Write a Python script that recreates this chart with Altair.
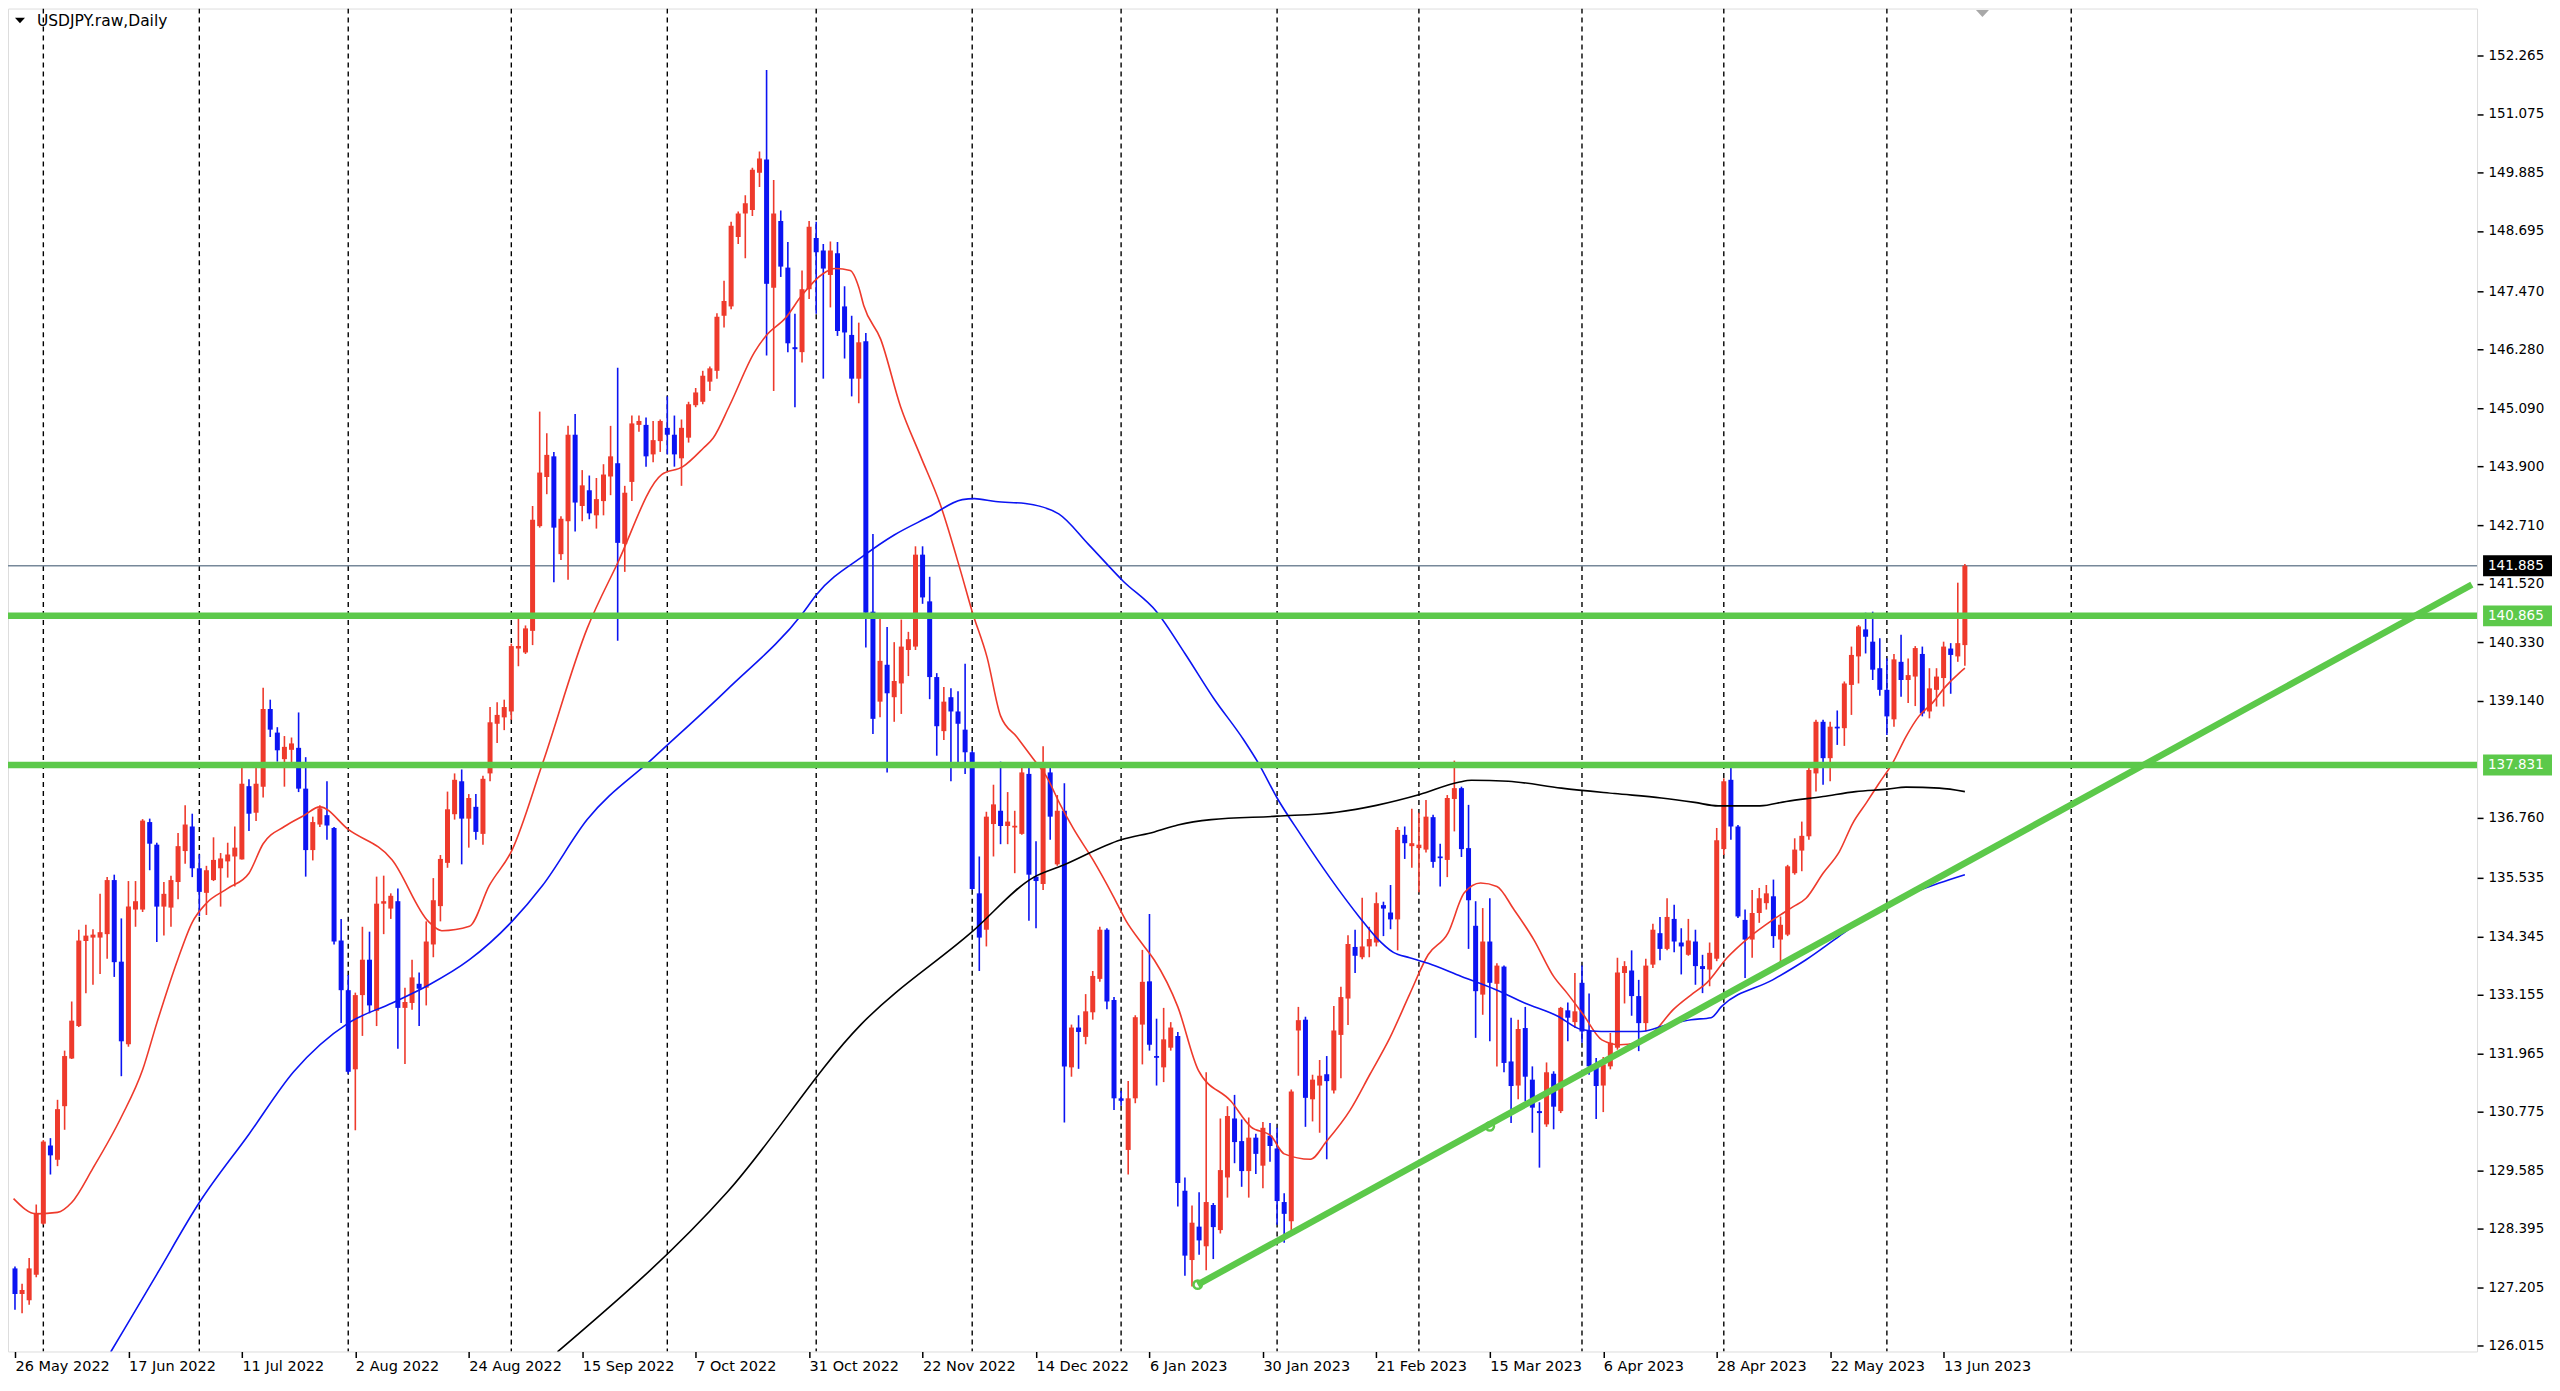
import json
import altair as alt
import pandas as pd

# ---------------- data (daily USDJPY candles) ----------------
OPEN = [
    127.59, 127.07, 126.94, 127.46, 128.50, 130.09, 129.80, 130.89, 131.86, 132.52,
    134.25, 134.32, 134.32, 134.39, 135.49, 133.83, 132.15, 134.89, 134.89, 136.67,
    136.21, 134.95, 134.93, 135.45, 136.08, 136.58, 135.73, 135.23, 135.49, 135.73,
    135.87, 135.97, 135.91, 137.40, 136.86, 137.39, 138.97, 138.49, 137.95, 138.14,
    138.18, 137.35, 136.10, 136.62, 136.81, 136.55, 134.26, 133.25, 131.64, 133.15,
    133.87, 132.83, 135.01, 134.91, 135.06, 132.89, 132.99, 133.38, 133.30, 134.18,
    134.96, 135.84, 136.83, 137.50, 136.74, 136.98, 136.43, 137.66, 138.67, 138.80,
    138.92, 140.20, 140.12, 140.56, 142.69, 143.69, 144.11, 142.12, 142.79, 144.55,
    143.10, 143.42, 142.91, 143.20, 143.70, 143.97, 142.33, 143.59, 144.75, 144.75,
    144.15, 144.42, 144.69, 144.55, 144.07, 144.49, 145.15, 145.22, 145.63, 145.85,
    146.97, 147.16, 148.57, 149.05, 149.12, 149.88, 150.15, 147.54, 148.90, 147.95,
    146.33, 146.23, 147.51, 148.55, 148.30, 147.80, 148.24, 147.16, 146.58, 145.69,
    146.45, 140.95, 139.12, 139.87, 139.21, 139.49, 140.17, 140.24, 142.11, 141.16,
    139.62, 138.52, 139.21, 138.92, 138.55, 138.09, 135.22, 134.48, 136.63, 136.90,
    136.59, 136.56, 136.43, 137.65, 135.56, 135.41, 137.68, 135.81, 136.90, 131.68,
    132.49, 132.30, 132.80, 133.48, 134.48, 133.05, 131.05, 130.00, 131.05, 132.55,
    133.43, 131.91, 131.68, 132.08, 132.32, 129.17, 127.76, 128.44, 128.04, 128.88,
    128.37, 129.44, 130.64, 130.18, 129.57, 130.25, 129.68, 130.29, 130.03, 128.94,
    128.55, 132.43, 132.65, 131.03, 131.31, 131.54, 131.21, 132.34, 133.08, 134.13,
    133.92, 134.14, 134.22, 134.98, 134.83, 134.69, 136.41, 136.18, 136.14, 136.11,
    136.77, 135.97, 135.90, 137.14, 137.36, 136.14, 134.56, 133.16, 134.24, 133.38,
    133.73, 131.80, 131.31, 132.48, 131.43, 130.79, 130.52, 131.55, 130.79, 132.84,
    132.60, 133.40, 132.43, 131.70, 131.31, 131.70, 132.08, 133.60, 133.65, 133.13,
    132.58, 133.77, 134.41, 134.09, 134.70, 134.22, 133.97, 134.24, 133.74, 133.67,
    133.89, 136.12, 137.53, 136.58, 134.68, 134.28, 134.82, 135.02, 135.16, 134.28,
    134.38, 135.63, 136.09, 136.38, 137.66, 138.71, 137.97, 138.61, 138.58, 139.46,
    140.04, 140.59, 140.34, 139.80, 139.36, 138.76, 139.93, 139.56, 139.63, 140.09,
    138.92, 139.36, 139.60, 140.20, 140.04, 140.27,
]
HIGH = [
    127.63, 127.28, 127.80, 128.89, 130.20, 130.24, 131.02, 132.02, 133.02, 134.48,
    134.58, 134.49, 135.21, 135.55, 135.60, 134.71, 135.47, 135.47, 136.73, 136.74,
    136.25, 135.45, 135.58, 136.45, 137.01, 136.84, 136.01, 135.78, 136.36, 136.04,
    136.25, 136.58, 137.78, 137.54, 137.88, 139.40, 139.16, 138.60, 138.42, 138.39,
    138.90, 137.99, 136.78, 137.01, 137.50, 136.57, 134.70, 133.56, 133.20, 134.54,
    134.44, 135.56, 135.58, 135.22, 135.32, 133.30, 133.87, 133.61, 134.65, 135.53,
    136.00, 137.29, 137.66, 137.74, 137.24, 137.24, 137.61, 139.01, 139.11, 139.16,
    140.30, 140.82, 140.67, 143.10, 145.02, 144.58, 144.20, 142.89, 144.73, 144.97,
    143.83, 143.72, 143.67, 143.95, 144.73, 145.91, 143.51, 144.94, 144.94, 144.90,
    144.83, 144.86, 145.33, 144.94, 144.86, 145.22, 145.50, 145.85, 145.94, 147.02,
    147.68, 148.88, 149.09, 149.42, 149.98, 150.31, 151.97, 149.73, 149.11, 148.47,
    147.01, 147.89, 148.90, 148.88, 148.43, 148.48, 148.47, 147.57, 146.97, 146.83,
    146.62, 142.53, 140.83, 140.64, 140.33, 140.79, 140.54, 142.28, 142.28, 141.66,
    139.70, 139.42, 139.39, 139.33, 139.89, 138.12, 135.97, 136.88, 137.43, 137.90,
    137.28, 136.90, 137.84, 137.84, 136.28, 138.21, 137.84, 137.22, 137.46, 132.55,
    132.74, 133.17, 133.64, 134.54, 134.51, 133.11, 131.20, 131.40, 132.74, 134.07,
    134.80, 132.67, 132.89, 132.60, 132.40, 129.44, 128.87, 129.14, 131.58, 128.92,
    130.64, 130.89, 131.12, 130.62, 130.66, 130.33, 130.57, 130.55, 130.45, 129.12,
    131.23, 132.91, 132.71, 131.53, 131.83, 131.91, 132.93, 133.32, 134.37, 134.48,
    135.13, 134.54, 135.24, 135.05, 135.39, 136.57, 136.58, 136.94, 136.86, 137.12,
    136.82, 136.23, 137.22, 137.92, 137.39, 137.02, 135.06, 134.92, 135.12, 133.80,
    133.75, 132.69, 132.65, 132.91, 131.70, 130.97, 131.78, 131.60, 132.91, 133.00,
    133.60, 133.75, 133.18, 131.87, 131.89, 132.38, 133.91, 133.84, 134.06, 133.46,
    133.89, 134.60, 134.74, 135.12, 134.99, 134.51, 134.70, 134.48, 133.97, 134.22,
    136.55, 137.56, 137.77, 136.61, 134.89, 135.29, 135.33, 135.39, 135.50, 134.75,
    135.80, 136.34, 136.68, 137.77, 138.75, 138.75, 138.71, 138.94, 139.53, 140.24,
    140.68, 140.93, 140.95, 140.41, 140.00, 140.09, 140.48, 140.00, 140.25, 140.24,
    139.80, 139.80, 140.34, 140.31, 141.54, 141.92,
]
LOW = [
    126.75, 126.68, 126.85, 127.41, 128.48, 129.50, 129.67, 130.41, 131.85, 132.50,
    133.19, 133.36, 133.58, 133.89, 133.52, 131.50, 132.10, 134.54, 134.84, 135.69,
    134.23, 134.36, 134.54, 135.10, 135.82, 135.55, 134.76, 134.78, 135.47, 134.95,
    135.54, 135.36, 135.91, 136.49, 136.69, 137.17, 138.40, 137.90, 137.39, 137.88,
    137.28, 135.56, 135.89, 136.57, 136.31, 134.18, 132.58, 131.55, 130.40, 132.32,
    132.78, 132.52, 134.39, 134.70, 132.06, 131.75, 132.85, 132.52, 132.94, 133.92,
    134.65, 135.74, 136.72, 135.81, 136.15, 136.31, 136.21, 137.50, 138.28, 138.54,
    138.75, 139.84, 140.09, 140.27, 142.66, 143.34, 141.55, 142.00, 141.60, 142.58,
    142.79, 142.83, 142.64, 142.91, 143.32, 140.36, 141.76, 143.20, 144.61, 143.90,
    143.99, 144.20, 144.15, 143.90, 143.51, 144.39, 145.11, 145.17, 145.44, 145.69,
    146.73, 147.10, 148.43, 148.14, 149.00, 149.59, 146.16, 145.44, 147.76, 146.23,
    145.11, 146.02, 147.31, 147.01, 145.69, 147.14, 146.56, 146.10, 145.33, 145.19,
    140.22, 138.46, 138.80, 137.68, 138.71, 138.87, 139.64, 140.17, 141.11, 139.17,
    138.02, 138.34, 137.50, 137.88, 137.65, 135.29, 133.64, 134.14, 135.97, 136.22,
    136.22, 135.63, 136.41, 134.66, 134.51, 135.29, 136.31, 135.78, 130.56, 131.49,
    131.65, 132.15, 132.65, 133.42, 132.86, 130.81, 130.90, 129.50, 130.95, 131.74,
    132.02, 131.31, 131.38, 132.02, 128.85, 127.44, 127.22, 127.87, 127.55, 127.78,
    128.30, 129.03, 129.73, 129.25, 129.03, 129.51, 129.22, 129.76, 128.48, 128.11,
    128.29, 131.51, 130.47, 130.58, 130.35, 129.81, 131.15, 131.46, 132.54, 133.60,
    133.88, 133.92, 134.14, 134.35, 134.49, 134.06, 135.92, 135.74, 135.24, 136.05,
    135.74, 135.36, 135.55, 136.48, 135.96, 134.09, 132.28, 132.75, 132.21, 131.70,
    131.58, 130.55, 131.03, 130.99, 130.35, 129.64, 130.47, 130.42, 130.75, 132.21,
    132.48, 132.18, 131.53, 130.63, 130.77, 131.64, 132.04, 132.98, 132.73, 132.01,
    132.41, 133.70, 133.86, 134.06, 134.02, 133.57, 133.95, 133.36, 133.19, 133.33,
    133.84, 136.00, 136.31, 134.72, 133.50, 133.91, 134.62, 134.89, 134.11, 133.73,
    134.35, 135.60, 135.67, 136.31, 137.29, 137.43, 137.50, 138.24, 138.22, 138.85,
    139.49, 140.10, 139.56, 139.24, 138.44, 138.61, 139.22, 139.09, 139.03, 138.82,
    138.78, 139.02, 139.02, 139.28, 139.93, 139.85,
]
CLOSE = [
    127.07, 127.15, 127.59, 128.72, 130.17, 129.89, 130.83, 131.91, 132.63, 134.26,
    134.36, 134.38, 134.43, 135.49, 133.82, 132.21, 134.95, 135.06, 136.70, 136.23,
    134.95, 135.21, 135.49, 136.18, 136.62, 135.73, 135.25, 135.69, 135.90, 135.93,
    136.01, 136.15, 137.45, 136.84, 137.45, 138.97, 138.55, 138.13, 138.20, 138.27,
    137.35, 136.10, 136.67, 136.95, 136.60, 134.24, 133.25, 131.59, 133.15, 133.87,
    132.94, 135.01, 135.06, 135.17, 132.89, 133.01, 133.51, 133.28, 134.24, 135.08,
    135.92, 136.93, 137.53, 136.74, 137.16, 136.47, 137.55, 138.70, 138.85, 139.01,
    140.25, 140.25, 140.61, 142.82, 143.78, 144.14, 142.66, 142.84, 144.55, 143.17,
    143.52, 142.95, 143.24, 143.74, 144.11, 142.35, 143.37, 144.78, 144.83, 144.11,
    144.44, 144.83, 144.55, 144.15, 144.69, 145.17, 145.41, 145.75, 145.90, 146.95,
    147.27, 148.80, 149.05, 149.26, 149.94, 150.17, 147.62, 149.05, 147.97, 146.41,
    146.29, 147.51, 148.78, 148.26, 147.93, 148.30, 146.66, 146.63, 145.69, 146.43,
    140.93, 138.77, 139.95, 139.29, 139.54, 140.24, 140.39, 142.11, 141.24, 139.62,
    138.62, 139.12, 138.92, 138.67, 138.09, 135.31, 134.32, 136.78, 137.03, 136.59,
    136.68, 136.59, 137.68, 135.60, 135.47, 137.80, 136.78, 136.90, 131.70, 132.49,
    132.40, 132.82, 133.54, 134.48, 133.02, 131.05, 131.00, 131.05, 132.70, 133.42,
    132.14, 131.89, 132.25, 132.49, 129.33, 127.85, 128.52, 128.16, 128.94, 128.43,
    129.59, 130.69, 130.16, 129.57, 130.25, 129.92, 130.45, 130.08, 128.96, 128.70,
    131.19, 132.64, 131.06, 131.43, 131.51, 131.40, 132.43, 133.11, 134.19, 133.95,
    134.14, 134.29, 135.02, 134.91, 134.69, 136.51, 136.24, 136.24, 136.21, 136.78,
    135.86, 135.94, 137.16, 137.36, 136.12, 135.08, 133.23, 134.24, 133.40, 133.75,
    131.77, 131.30, 132.46, 131.49, 130.86, 130.75, 131.58, 130.88, 132.89, 132.69,
    132.82, 132.41, 131.70, 131.30, 131.74, 132.18, 133.61, 133.74, 133.13, 132.58,
    133.75, 134.48, 134.09, 134.74, 134.24, 134.14, 134.26, 133.74, 133.68, 134.01,
    136.30, 137.50, 136.58, 134.75, 134.28, 134.82, 135.12, 135.22, 134.35, 134.58,
    135.77, 136.11, 136.39, 137.73, 138.71, 137.97, 138.61, 138.58, 139.49, 140.07,
    140.65, 140.44, 139.77, 139.36, 138.82, 139.98, 139.56, 139.66, 140.21, 138.88,
    139.39, 139.63, 140.24, 140.07, 140.31, 141.885,
]

# moving averages as [bar index, price]
RED_MA = [
    [-0.2, 129.01], [3, 128.70], [6, 128.73], [8, 128.93], [11, 129.63], [15, 130.67],
    [18, 131.63], [20, 132.58], [23, 133.89], [25, 134.63], [27, 135.02], [30, 135.32],
    [33, 135.63], [35, 136.23], [38, 136.58], [40.7, 136.80], [43, 136.98], [47, 136.52],
    [53.2, 135.90], [58.3, 134.65], [60.2, 134.46], [64.1, 134.55], [66.9, 135.38],
    [70.1, 136.10], [74.4, 137.86], [80.7, 140.61], [84.9, 141.91], [91.2, 143.74],
    [94.2, 143.90], [97.1, 144.28], [98.5, 144.49], [100.8, 145.15], [104.3, 146.23],
    [105.9, 146.56], [108.7, 146.93], [111.0, 147.39], [113.9, 147.82], [115.7, 147.93],
    [117.8, 147.89], [119.0, 147.55], [119.7, 147.18], [122.1, 146.49], [124.9, 145.12],
    [127.7, 144.12], [130.5, 143.13], [133.4, 141.76], [135.0, 140.95], [137.1, 140.02],
    [139.0, 138.83], [141.3, 138.40], [143.6, 137.96], [145.5, 137.59], [147.4, 137.03],
    [149.3, 136.53], [152.0, 135.91], [154.9, 135.16], [156.7, 134.66], [159.1, 134.17],
    [160.7, 133.86], [164.0, 132.91], [166.9, 131.62], [171.5, 130.99], [174.3, 130.47],
    [177.1, 130.29], [179.0, 129.92], [182.7, 129.81], [185.0, 130.18], [188.3, 130.81],
    [191.1, 131.54], [193.9, 132.28], [196.7, 133.17], [199.3, 133.97], [202.1, 134.41],
    [204.4, 135.23], [206.7, 135.43], [209.0, 135.36], [211.4, 134.89], [214.2, 134.28],
    [217.0, 133.53], [218.9, 133.19], [221.2, 132.75], [223.8, 132.24], [226.3, 132.14],
    [228.7, 132.18], [231.0, 132.38], [233.9, 132.86], [236.7, 133.19], [238.6, 133.40],
    [241.4, 133.90], [244.2, 134.28], [247.9, 134.68], [250.8, 134.95], [252.6, 135.12],
    [255.0, 135.63], [257.3, 136.07], [259.2, 136.65], [261.1, 137.06], [262.9, 137.46],
    [264.8, 137.87], [266.7, 138.41], [268.5, 138.82], [270.4, 139.09], [272.3, 139.43],
    [274.2, 139.70], [275.0, 139.80],
]
BLUE_MA = [
    [13.5, 125.89], [15.4, 126.35], [20, 127.47], [26, 128.93], [33, 130.32], [39.3, 131.59],
    [47, 132.58], [53.2, 132.99], [58.3, 133.35], [64.1, 133.87], [70.1, 134.65],
    [74.4, 135.38], [80.7, 136.72], [90, 137.97], [100.4, 139.36], [111.1, 140.92],
    [113, 141.29], [119.6, 142.08], [124.0, 142.51], [128.9, 142.88], [133.6, 143.23],
    [135.3, 143.25], [138.3, 143.19], [142.5, 143.15], [147.2, 142.94], [151.4, 142.32],
    [156.3, 141.57], [161.0, 140.95], [165, 140.10], [169, 139.20], [173.3, 138.34],
    [175.4, 137.86], [178.0, 137.16], [181.3, 136.42], [185.5, 135.53], [189.7, 134.72],
    [192.0, 134.32], [194.4, 134.02], [196.7, 133.91], [199.3, 133.80], [204.0, 133.53],
    [208.7, 133.27], [212.9, 132.99], [217.6, 132.72], [220.9, 132.45], [223.7, 132.41],
    [229.3, 132.41], [233.1, 132.55], [236.4, 132.65], [239.2, 132.69], [240.7, 132.92],
    [247.9, 133.46], [252.6, 133.87], [257.3, 134.35], [262.0, 134.82], [265.3, 135.08],
    [271.4, 135.43], [275.0, 135.60],
]
BLACK_MA = [
    [76.5, 125.89], [100.5, 129.15], [119.3, 132.55], [135.0, 134.44], [143.6, 135.54],
    [147.8, 135.79], [156.0, 136.31], [160.7, 136.47], [164.0, 136.61], [168.7, 136.72],
    [178.0, 136.79], [186.4, 136.87], [192.0, 137.01], [198.1, 137.23], [203.6, 137.48],
    [205.4, 137.52], [210.6, 137.50], [218.1, 137.36], [225.6, 137.25], [232.2, 137.16],
    [236.9, 137.07], [240.2, 137.00], [246.1, 137.00], [249.8, 137.09], [255.0, 137.19],
    [259.6, 137.29], [264.1, 137.34], [266.7, 137.38], [271.4, 137.36], [275.0, 137.29],
]

LEVELS = [140.865, 137.831]
LAST_PRICE = 141.885
TREND = [[166.8, 127.26], [346.5, 141.50]]
TREND_ANCHORS = [[166.8, 127.26], [208.0, 130.48]]

DATE_LABELS = [
    "26 May 2022", "17 Jun 2022", "11 Jul 2022", "2 Aug 2022", "24 Aug 2022",
    "15 Sep 2022", "7 Oct 2022", "31 Oct 2022", "22 Nov 2022", "14 Dec 2022",
    "6 Jan 2023", "30 Jan 2023", "21 Feb 2023", "15 Mar 2023", "6 Apr 2023",
    "28 Apr 2023", "22 May 2023", "13 Jun 2023",
]
DATE_LABEL_IDX = [16 * i for i in range(len(DATE_LABELS))]
MONTH_START_IDX = [4, 26, 47, 70, 92, 113, 135, 156, 178, 198, 221, 241, 264, 290]
PRICE_TICKS = [
    152.265, 151.075, 149.885, 148.695, 147.470, 146.280, 145.090, 143.900, 142.710,
    141.520, 140.330, 139.140, 136.760, 135.535, 134.345, 133.155, 131.965, 130.775,
    129.585, 128.395, 127.205, 126.015,
]
TITLE = "USDJPY.raw,Daily"

# ---------------- styling ----------------
RED = "#ee3a2c"
BLUE = "#0b14f2"
GREEN = "#5cc94a"
FONT = "DejaVu Sans"
W, H = 2471, 1344
XDOM = [-0.28, 346.53]
YDOM = [125.90, 153.22]

candles = pd.DataFrame({"idx": list(range(len(OPEN))), "open": OPEN, "high": HIGH,
                        "low": LOW, "close": CLOSE})
candles["dir"] = ["up" if c >= o else "down" for o, c in zip(candles["open"], candles["close"])]
candles["bo"] = candles["open"]
candles["bc"] = [c if abs(c - o) >= 0.035 else (o + 0.035 if c >= o else o - 0.035)
                 for o, c in zip(candles["open"], candles["close"])]

xscale = alt.Scale(domain=XDOM, nice=False, zero=False)
yscale = alt.Scale(domain=YDOM, nice=False, zero=False)
x_axis = alt.Axis(values=DATE_LABEL_IDX, labelExpr=json.dumps(DATE_LABELS) + "[round(datum.value / 16)]",
                  title=None, grid=False, domain=False, tickSize=6, tickColor="black", tickWidth=1.5,
                  labelAlign="left", labelBaseline="top", labelPadding=2, labelFont=FONT,
                  labelFontSize=14.5, labelColor="black", labelOverlap=False, labelFlush=False)
y_axis = alt.Axis(values=PRICE_TICKS, format=".3f", orient="right", title=None, grid=False,
                  domain=False, tickSize=6, tickColor="black", tickWidth=1.5, labelPadding=5,
                  labelFont=FONT, labelFontSize=13.5, labelColor="black", labelOverlap=False,
                  labelFlush=False)


def X(f):
    return alt.X(f"{f}:Q", scale=xscale, axis=x_axis)


def Y(f):
    return alt.Y(f"{f}:Q", scale=yscale, axis=y_axis)


dir_color = alt.Color("dir:N", scale=alt.Scale(domain=["up", "down"], range=[RED, BLUE]), legend=None)

grid = alt.Chart(pd.DataFrame({"idx": MONTH_START_IDX})).mark_rule(
    color="black", strokeWidth=1.4, strokeDash=[5, 4], clip=True).encode(x=X("idx"))

price_line = alt.Chart(pd.DataFrame({"v": [LAST_PRICE]})).mark_rule(
    color="#778899", strokeWidth=1.5, clip=True).encode(y=Y("v"))

wicks = alt.Chart(candles).mark_rule(strokeWidth=1.6, clip=True).encode(
    x=X("idx"), y=Y("low"), y2="high:Q", color=dir_color)
bodies = alt.Chart(candles).mark_bar(size=5, clip=True).encode(
    x=X("idx"), y=Y("bo"), y2="bc:Q", color=dir_color)


def ma_layer(points, color):
    df = pd.DataFrame(points, columns=["idx", "v"])
    return alt.Chart(df).mark_line(color=color, strokeWidth=1.6, interpolate="monotone",
                                   clip=True).encode(x=X("idx"), y=Y("v"))


red_ma = ma_layer(RED_MA, RED)
blue_ma = ma_layer(BLUE_MA, BLUE)
black_ma = ma_layer(BLACK_MA, "black")

levels = alt.Chart(pd.DataFrame({"v": LEVELS})).mark_rule(
    color=GREEN, strokeWidth=6.5, clip=True).encode(y=Y("v"))
trend = alt.Chart(pd.DataFrame(TREND, columns=["idx", "v"])).mark_line(
    color=GREEN, strokeWidth=6.5, clip=True).encode(x=X("idx"), y=Y("v"))
anchors = alt.Chart(pd.DataFrame(TREND_ANCHORS, columns=["idx", "v"])).mark_point(
    shape="circle", filled=False, color=GREEN, size=70, strokeWidth=2.5, opacity=1,
    clip=True).encode(x=X("idx"), y=Y("v"))

boxes_df = pd.DataFrame({
    "v": [LAST_PRICE] + LEVELS,
    "t": [f"{LAST_PRICE:.3f}"] + [f"{v:.3f}" for v in LEVELS],
    "bg": ["black", GREEN, GREEN],
})
box_bg = alt.Chart(boxes_df).transform_calculate(
    lo="datum.v - 0.213", hi="datum.v + 0.213").mark_rect().encode(
    x=alt.value(W + 6), x2=alt.value(W + 75), y=Y("lo"), y2="hi:Q",
    color=alt.Color("bg:N", scale=None))
box_txt = alt.Chart(boxes_df).mark_text(
    align="left", baseline="middle", font=FONT, fontSize=13.5, color="white").encode(
    x=alt.value(W + 11), y=Y("v"), text="t:N")

title_df = pd.DataFrame({"t": [TITLE]})
title_txt = alt.Chart(title_df).mark_text(
    align="left", baseline="middle", font=FONT, fontSize=15.5, color="black").encode(
    x=alt.value(29), y=alt.value(12), text="t:N")
title_tri = alt.Chart(title_df).mark_point(
    shape="M-1,-0.55L1,-0.55L0,0.55Z", filled=True, color="black", size=100, opacity=1).encode(
    x=alt.value(12), y=alt.value(12))
shift_tri = alt.Chart(title_df).mark_point(
    shape="M-1,-0.55L1,-0.55L0,0.55Z", filled=True, color="#a8a8a8", size=170, opacity=1).encode(
    x=alt.value(1976), y=alt.value(5))

chart = alt.layer(
    grid, price_line, wicks, bodies, red_ma, blue_ma, black_ma,
    levels, trend, anchors, box_bg, box_txt, title_txt, title_tri, shift_tri,
).properties(
    width=W, height=H,
    padding={"left": 0, "top": 0, "right": 0, "bottom": 0},
).configure_view(
    stroke="black", strokeWidth=1.5
).configure(background="white")

chart.save("out.html", embed_options={"renderer": "svg", "actions": False})
